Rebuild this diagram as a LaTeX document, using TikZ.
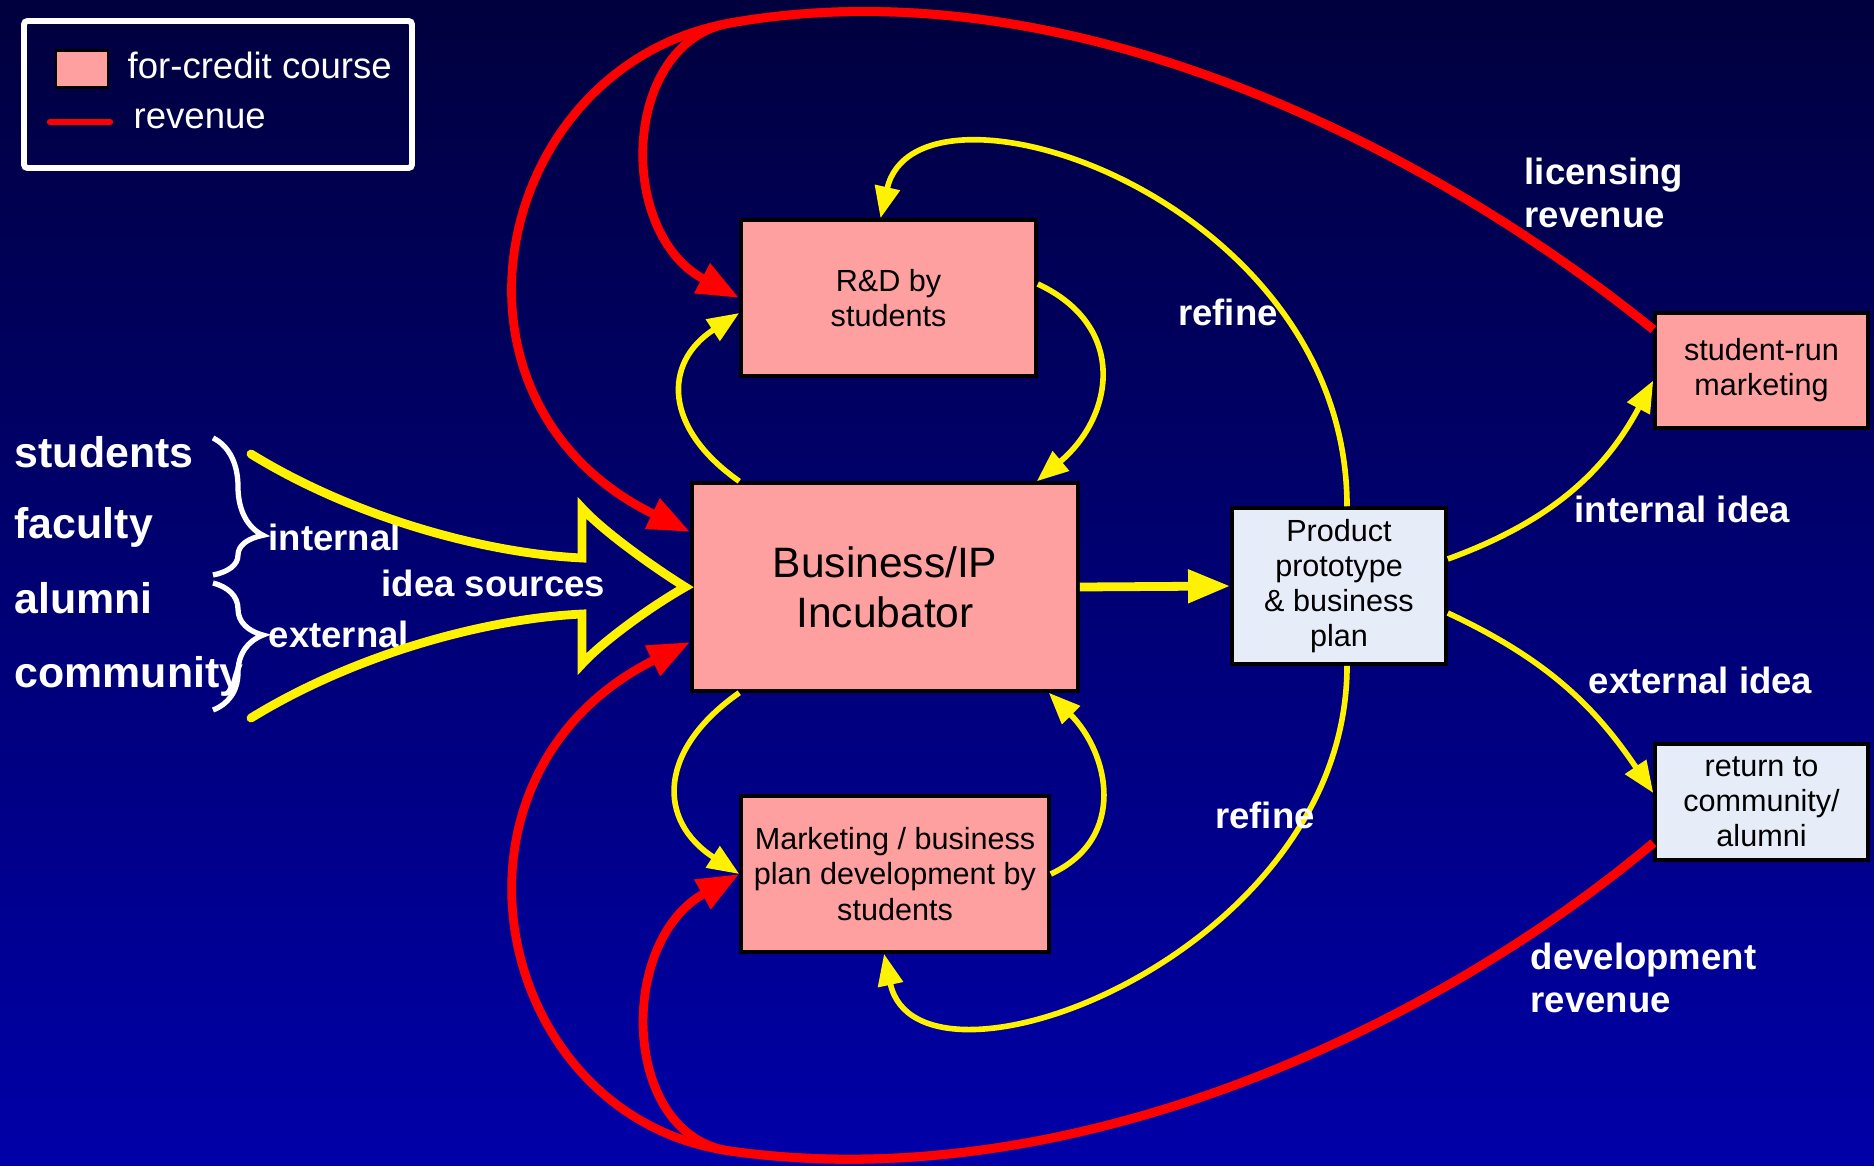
\documentclass[tikz,border=0pt]{standalone}
\usepackage{fontspec}
\setmainfont{Liberation Sans}
\usetikzlibrary{arrows.meta,decorations.pathreplacing}
\definecolor{bgtop}{RGB}{0,0,62}
\definecolor{bgbot}{RGB}{0,0,168}
\definecolor{coursepink}{RGB}{255,160,160}
\definecolor{plainblue}{RGB}{230,236,248}

\begin{document}
\begin{tikzpicture}[
            course box/.style={draw=black,line width=1pt,fill=coursepink,align=center,
                             inner sep=0,font=\fontsize{8.7}{10}\selectfont},
            plain box/.style={course box,fill=plainblue},
            white label/.style={text=white,align=left,inner sep=0,
                             font=\bfseries\fontsize{10.4}{12}\selectfont},
            source label/.style={text=white,inner sep=0,anchor=base west,
                             font=\bfseries\fontsize{12.2}{14}\selectfont},
            flow arrow/.style={draw=yellow,line width=1.6pt,-{Triangle[length=9pt,width=7pt]}},
            cash arrow/.style={draw=red,line width=2.5pt,-{Triangle[length=12pt,width=9pt]}},
            brace line/.style={draw=white,line width=1.5pt,decorate}]
            \useasboundingbox (0,0) rectangle (18.74,11.65);
            \shade[top color=bgtop,bottom color=bgbot] (0,0) rectangle (18.74,11.65);
            %==================
            \draw[white,line width=1.7pt,rounded corners=1pt] (0.24,9.97) rectangle (4.12,11.44);
            \node[draw=black,line width=0.8pt,fill=coursepink,minimum width=0.52cm,
                  minimum height=0.37cm,inner sep=0] (keybox) at (0.82,10.96) {};
            \node[text=white,anchor=west,inner sep=0,font=\fontsize{10.4}{12}\selectfont]
                  (keycourse) at (1.27,11.00) {for-credit course};
            \coordinate (keyline) at (0.50,10.43);
            \draw[red,line width=1.8pt,line cap=round] (keyline) -- ++(0.60,0);
            \node[text=white,anchor=west,inner sep=0,font=\fontsize{10.4}{12}\selectfont]
                  (keyrev) at (1.33,10.46) {revenue};
            %==================
            \node[course box,minimum width=2.95cm,minimum height=1.56cm] (rd) at (8.885,8.67) {R\&D by\\students};
            \node[course box,minimum width=3.86cm,minimum height=2.08cm,
                  font=\fontsize{12.1}{14.2}\selectfont] (inc) at (8.85,5.78) {Business/IP\\Incubator};
            \node[course box,minimum width=3.08cm,minimum height=1.56cm] (mkt) at (8.95,2.91)
                  {Marketing / business\\plan development by\\students};
            \node[plain box,minimum width=2.14cm,minimum height=1.56cm] (proto) at (13.39,5.79)
                  {Product\\prototype\\ \& business\\plan};
            \node[course box,minimum width=2.13cm,minimum height=1.15cm] (srm) at (17.615,7.945) {student-run\\marketing};
            \node[plain box,minimum width=2.13cm,minimum height=1.16cm] (ret) at (17.615,3.63) {return to\\community/\\alumni};
            % ===================
            \node[source label] (stud) at (0.14,6.98) {students};
            \node[source label] (fac) at (0.14,6.27) {faculty};
            \node[source label] (alum) at (0.14,5.52) {alumni};
            \node[source label] (comm) at (0.14,4.78) {community};
            \draw[brace line,decoration={brace,amplitude=0.5cm,aspect=0.71}] (2.13,7.27) -- (2.13,5.90);
            \draw[brace line,decoration={brace,amplitude=0.5cm,aspect=0.41}] (2.13,5.82) -- (2.13,4.55);
            \node[white label,anchor=base west] (intl) at (2.68,6.15) {internal};
            \node[white label,anchor=base west] (extl) at (2.68,5.18) {external};
            \node[white label,anchor=base west] (src) at (3.81,5.69) {idea sources};
            \draw[yellow,line width=2.5pt,line join=miter,line cap=round]
                (2.51,7.11) .. controls (3.5,6.5) and (4.8,6.12) .. (5.82,6.07)
                -- (5.82,6.57) .. controls (6.02,6.35) and (6.5,6.0) .. ([xshift=-0.5mm]inc.west)
                .. controls (6.5,5.58) and (6.02,5.23) .. (5.82,5.01)
                -- (5.82,5.51) .. controls (4.8,5.46) and (3.5,5.08) .. (2.51,4.47);
            % ===================
            \draw[flow arrow] ([xshift=4.9mm]inc.north west) to[out=145,in=-147,looseness=1.4] ([yshift=-1.5mm]rd.west);
            \draw[flow arrow] ([yshift=1.4mm]rd.east) to[out=-25,in=40,looseness=1.3] ([xshift=-4.3mm]inc.north east);
            \draw[flow arrow] ([xshift=4.9mm]inc.south west) to[out=-145,in=147,looseness=1.4] (mkt.west);
            \draw[flow arrow] (mkt.east) to[out=25,in=-45,looseness=1.2] ([xshift=-3.1mm]inc.south east);
            \draw[flow arrow,line width=2.5pt,-{Triangle[length=12pt,width=9pt]}] (inc.east) -- (proto.west);
            \draw[flow arrow] ([xshift=0.8mm]proto.north) .. controls +(0,3.1) and +(0.36,1.6) .. ([xshift=-0.8mm]rd.north);
            \draw[flow arrow] ([xshift=0.8mm]proto.south) .. controls +(0,-2.9) and +(0.34,-1.6) .. ([xshift=-1.1mm]mkt.south);
            \draw[flow arrow] ([yshift=2.7mm]proto.east) to[out=20,in=-118] ([yshift=-1mm]srm.west);
            \draw[flow arrow] ([yshift=-2.7mm]proto.east) to[out=-25,in=124] ([yshift=0.9mm]ret.west);
            \node[white label] (refup) at (12.28,8.53) {refine};
            \node[white label] (refdown) at (12.65,3.50) {refine};
            \node[white label,anchor=west] (intidea) at (15.74,6.56) {internal idea};
            \node[white label,anchor=west] (extidea) at (15.88,4.85) {external idea};
            % ===================
            \coordinate (rtop) at (7.3,11.42);
            \coordinate (rbot) at (7.3,0.14);
            \draw[cash arrow] ([yshift=4.1mm]srm.west) .. controls +(141:2.8) and +(10:3.5) .. (rtop)
                .. controls +(190:1.1) and +(152:1.4) .. (rd.west);
            \draw[cash arrow] ([yshift=4.1mm]srm.west) .. controls +(141:2.8) and +(10:3.5) .. (rtop)
                .. controls +(190:2.4) and +(154:3) .. ([yshift=5.5mm]inc.west);
            \draw[cash arrow] ([yshift=-4.1mm]ret.west) .. controls +(220:2.8) and +(-8:3.5) .. (rbot)
                .. controls +(172:1.1) and +(-151:1.4) .. (mkt.west);
            \draw[cash arrow] ([yshift=-4.1mm]ret.west) .. controls +(220:2.8) and +(-8:3.5) .. (rbot)
                .. controls +(172:2.4) and +(-153.5:3) .. ([yshift=-5.5mm]inc.west);
            \node[white label,anchor=west] (licrev) at (15.24,9.72) {licensing\\revenue};
            \node[white label,anchor=west] (devrev) at (15.30,1.87) {development\\revenue};
        \end{tikzpicture}
\end{document}
